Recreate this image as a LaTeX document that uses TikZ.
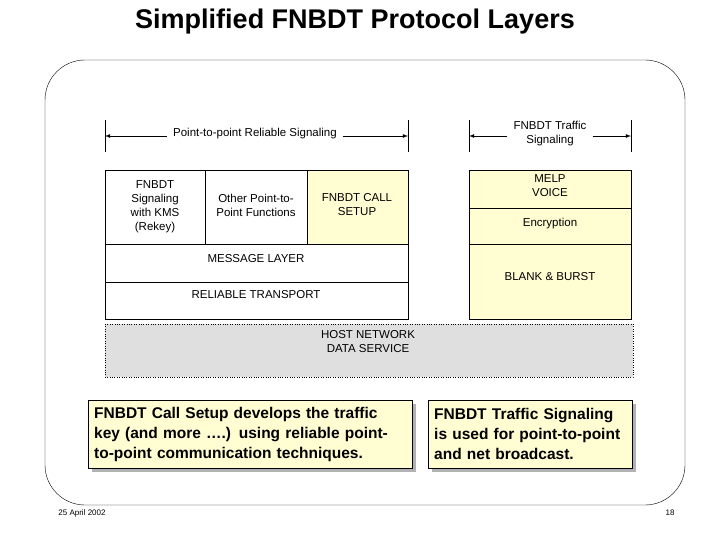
\documentclass[tikz,border=0pt]{standalone}
\usepackage{fontspec}
\setmainfont{Liberation Sans}
\begin{document}
\begin{tikzpicture}[x=1pt,y=-1pt,
 lbl/.style={font=\fontsize{11.5}{14}\selectfont,align=center,inner sep=0pt},
 box/.style={draw,thin},
 yel/.style={fill=yellow!18},
 note/.style={draw,fill=yellow!18,font=\bfseries\fontsize{15.5}{20}\selectfont,align=left,inner sep=6pt,anchor=north west},
 arr/.style={thick,-latex}]
\useasboundingbox (0,0) rectangle (720,540);
\node[font=\bfseries\fontsize{27}{30}\selectfont] (title) at (355,22) {Simplified FNBDT Protocol Layers};
\draw[rounded corners=40pt] (45,60) rectangle (685,505);
% brackets
\draw (105,120) -- (105,152) (408,120) -- (408,152) (469,120) -- (469,152) (631,120) -- (631,152);
\node[lbl] (p2p) at (255,134) {Point-to-point Reliable Signaling};
\node[lbl] (tsig) at (550,134) {FNBDT Traffic\\Signaling};
\coordinate (l1) at (105,136); \coordinate (l2) at (408,136);
\coordinate (r1) at (469,136); \coordinate (r2) at (631,136);
\draw[arr] (p2p.west) ++(-6,2) -- (l1);
\draw[arr] (p2p.east) ++(6,2) -- (l2);
\draw[arr] (tsig.west) ++(-6,2) -- (r1);
\draw[arr] (tsig.east) ++(6,2) -- (r2);
% left stack
\draw[box] (105,170) rectangle (205,244);
\draw[box] (205,170) rectangle (307,244);
\draw[box,yel] (307,170) rectangle (408,244);
\draw[semithick] (307,170) -- (307,244);
\draw[box] (105,244) rectangle (408,282);
\draw[box] (105,282) rectangle (408,319);
\node[lbl] (kms) at (155,207) {FNBDT\\Signaling\\with KMS\\(Rekey)};
\node[lbl] (oth) at (256,205) {Other Point-to-\\Point Functions};
\node[lbl] (call) at (357,205) {FNBDT CALL\\SETUP};
\node[lbl] (msg) at (256,259) {MESSAGE LAYER};
\node[lbl] (rel) at (256,295) {RELIABLE TRANSPORT};
% right stack
\draw[box,yel] (469,170) rectangle (631,319);
\draw[semithick] (469,208) -- (631,208);
\draw[box] (469,244) -- (631,244);
\node[lbl] (melp) at (550,186) {MELP\\VOICE};
\node[lbl] (enc) at (550,224) {Encryption};
\node[lbl] (bb) at (550,277) {BLANK \& BURST};
% host
\draw[box,fill=gray!25,dotted] (105,324) rectangle (633,377);
\node[lbl] (host) at (368,342) {HOST NETWORK\\DATA SERVICE};
% notes
\fill[gray!60] (92,404) rectangle (416,472);
\node[note,text width=312,minimum height=68] (n1) at (88,400) {FNBDT Call Setup develops the traffic\\key (and more ….) using reliable point-\\to-point communication techniques.};
\fill[gray!60] (432,404) rectangle (636,472);
\node[note,text width=192,minimum height=68] (n2) at (428,400) {FNBDT Traffic Signaling\\is used for point-to-point\\and net broadcast.};
\node[font=\fontsize{8}{10}\selectfont] (date) at (82,513) {25 April 2002};
\node[font=\fontsize{8}{10}\selectfont] (pg) at (670,513) {18};
\end{tikzpicture}
\end{document}
